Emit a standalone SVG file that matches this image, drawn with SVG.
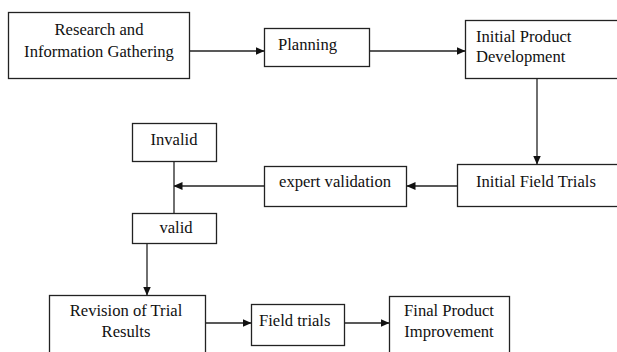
<svg xmlns="http://www.w3.org/2000/svg" width="617" height="352" viewBox="0 0 617 352">
<style>
.box{fill:#fff;stroke:#222;stroke-width:1.3}
.t{font-size:16.6px;fill:#111}
.c{text-anchor:middle}
.ln{fill:none;stroke:#222;stroke-width:1.3}
</style>
<defs>
<marker id="ah" markerWidth="9" markerHeight="8" refX="8.5" refY="4" orient="auto" markerUnits="userSpaceOnUse">
<path d="M0,0 L9,4 L0,8 Z" fill="#111"/>
</marker>
</defs>
<rect width="617" height="352" fill="#fff"/>
<g id="connectors">
<line class="ln" x1="190" y1="51" x2="264" y2="51" marker-end="url(#ah)"/>
<line class="ln" x1="369" y1="51" x2="465" y2="51" marker-end="url(#ah)"/>
<line class="ln" x1="537" y1="78" x2="537" y2="164" marker-end="url(#ah)"/>
<line class="ln" x1="457" y1="186" x2="407" y2="186" marker-end="url(#ah)"/>
<line class="ln" x1="264" y1="186" x2="174" y2="186" marker-end="url(#ah)"/>
<line class="ln" x1="174" y1="161" x2="174" y2="213"/>
<line class="ln" x1="147" y1="243" x2="147" y2="295" marker-end="url(#ah)"/>
<line class="ln" x1="205" y1="323" x2="251" y2="323" marker-end="url(#ah)"/>
<line class="ln" x1="344" y1="323" x2="389" y2="323" marker-end="url(#ah)"/>
</g>
<g font-family="'Liberation Serif', 'Times New Roman', Tinos, 'DejaVu Serif', serif">
<g id="research">
<rect class="box" x="8.5" y="12.5" width="181" height="66"/>
<text class="t c" x="99" y="35">Research and</text>
<text class="t c" x="99" y="57">Information Gathering</text>
</g>
<g id="planning">
<rect class="box" x="264.5" y="28.5" width="105" height="38"/>
<text class="t" x="278" y="50">Planning</text>
</g>
<g id="initial-product">
<rect class="box" x="465.5" y="20.5" width="155" height="58"/>
<text class="t" x="476" y="42">Initial Product</text>
<text class="t" x="476" y="62">Development</text>
</g>
<g id="initial-field">
<rect class="box" x="457.5" y="164.5" width="163" height="42"/>
<text class="t" x="476" y="187">Initial Field Trials</text>
</g>
<g id="expert">
<rect class="box" x="264.5" y="166.5" width="142" height="40"/>
<text class="t c" x="335" y="187">expert validation</text>
</g>
<g id="invalid">
<rect class="box" x="132.5" y="123.5" width="84" height="38"/>
<text class="t c" x="174" y="145">Invalid</text>
</g>
<g id="valid">
<rect class="box" x="132.5" y="213.5" width="84" height="30"/>
<text class="t c" x="176" y="233">valid</text>
</g>
<g id="revision">
<rect class="box" x="49.5" y="295.5" width="156" height="62"/>
<text class="t c" x="126" y="316">Revision of Trial</text>
<text class="t c" x="126" y="337">Results</text>
</g>
<g id="field-trials">
<rect class="box" x="251.5" y="304.5" width="93" height="41"/>
<text class="t" x="259" y="326">Field trials</text>
</g>
<g id="final">
<rect class="box" x="389.5" y="296.5" width="120" height="62"/>
<text class="t c" x="449" y="316">Final Product</text>
<text class="t c" x="449" y="337">Improvement</text>
</g>
</g>
</svg>
